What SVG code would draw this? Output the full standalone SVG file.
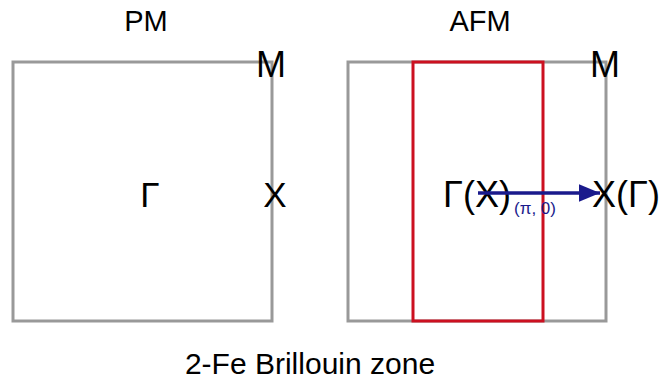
<svg xmlns="http://www.w3.org/2000/svg" width="665" height="383" viewBox="0 0 665 383">
<defs>
<style>
.t{font-family:"Liberation Sans",Arial,sans-serif;fill:#000}
.bz{fill:none;stroke:#999;stroke-width:3}
</style>
<marker id="ah" markerWidth="6" markerHeight="5" refX="6" refY="2.5" orient="auto" markerUnits="strokeWidth">
<path d="M0,0 L6,2.5 L0,5 Z" fill="#1a1a8c"/>
</marker>
</defs>
<rect width="665" height="383" fill="#fff"/>
<g id="pm">
<rect class="bz" x="13" y="62" width="259" height="259"/>
<text class="t" x="146" y="31" font-size="29" text-anchor="middle">PM</text>
<text class="t" x="271" y="77" font-size="36" text-anchor="middle">M</text>
<text class="t" x="150" y="207" font-size="35" text-anchor="middle">Γ</text>
<text class="t" x="275" y="207" font-size="35" text-anchor="middle">X</text>
</g>
<g id="afm">
<rect class="bz" x="348" y="62" width="258" height="259"/>
<rect x="413" y="62" width="130" height="259" fill="none" stroke="#cc1020" stroke-width="3"/>
<text class="t" x="480" y="31" font-size="29" text-anchor="middle">AFM</text>
<text class="t" x="605" y="77" font-size="36" text-anchor="middle">M</text>
<text class="t" x="477" y="207" font-size="36" text-anchor="middle">Γ(X)</text>
<text class="t" x="626" y="207" font-size="36" text-anchor="middle">X(Γ)</text>
</g>
<g id="connectors">
<line x1="478" y1="193" x2="600" y2="193" stroke="#1a1a8c" stroke-width="3.5" marker-end="url(#ah)"/>
<text x="535" y="214" font-size="17" text-anchor="middle" style="font-family:'Liberation Sans',Arial,sans-serif;fill:#1a1a8c">(π, 0)</text>
</g>
<text class="t" x="310" y="374" font-size="30" text-anchor="middle">2-Fe Brillouin zone</text>
</svg>
